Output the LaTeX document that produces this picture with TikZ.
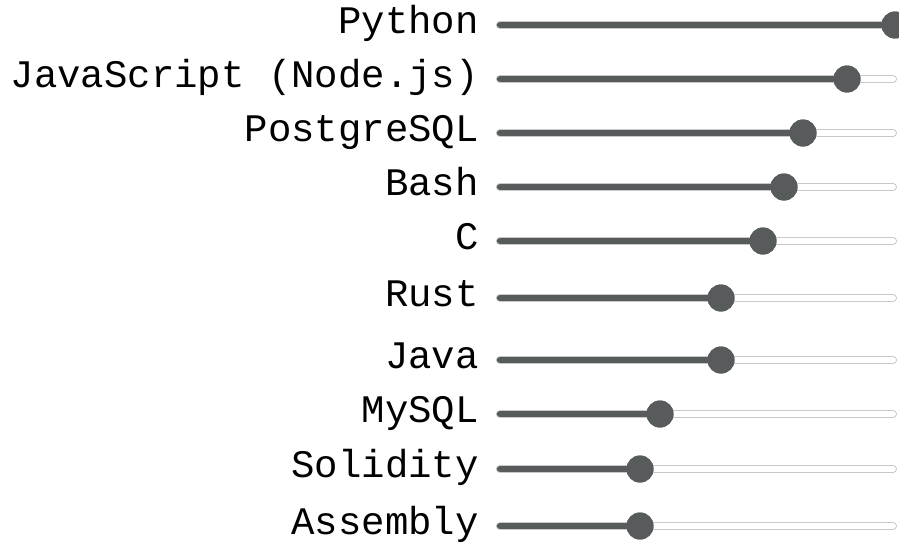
\documentclass[tikz,border=0pt]{standalone}
\usepackage{fontspec}
\setmonofont{Liberation Mono}
\definecolor{knobgray}{RGB}{87,91,92}
\definecolor{trackedge}{RGB}{200,200,200}
\tikzset{
  lbl/.style={anchor=base east, inner sep=0pt, font=\fontsize{39}{41}\selectfont\ttfamily, text=black},
  knob/.style={circle, fill=knobgray, minimum size=27pt, inner sep=0pt},
  trackout/.style={line width=8pt, trackedge, line cap=round},
  trackin/.style={line width=6pt, white, line cap=round},
  trackfill/.style={line width=6.5pt, knobgray, line cap=round},
}
\begin{document}
\begin{tikzpicture}[x=1pt,y=-1pt]
\useasboundingbox[fill=white] (0,0) rectangle (899,547);
\foreach \i/\name/\y/\kx in {1/Python/25/895, 2/{JavaScript (Node.js)}/79/847, 3/PostgreSQL/133/803, 4/Bash/187/784, 5/C/241/763, 6/Rust/298/721, 7/Java/360/721, 8/MySQL/414/660, 9/Solidity/469/640, 10/Assembly/526/640}{
  \node[lbl] (l\i) at (479,\y+8) {\name};
  \coordinate (s\i) at (500,\y);
  \coordinate (e\i) at (893,\y);
  \draw[trackout] (s\i) -- (e\i);
  \draw[trackin] (s\i) -- (e\i);
  \node[knob] (k\i) at (\kx,\y) {};
  \draw[trackfill] (s\i) -- (k\i.center);
  \node[knob] at (k\i) {};
}
\end{tikzpicture}
\end{document}
